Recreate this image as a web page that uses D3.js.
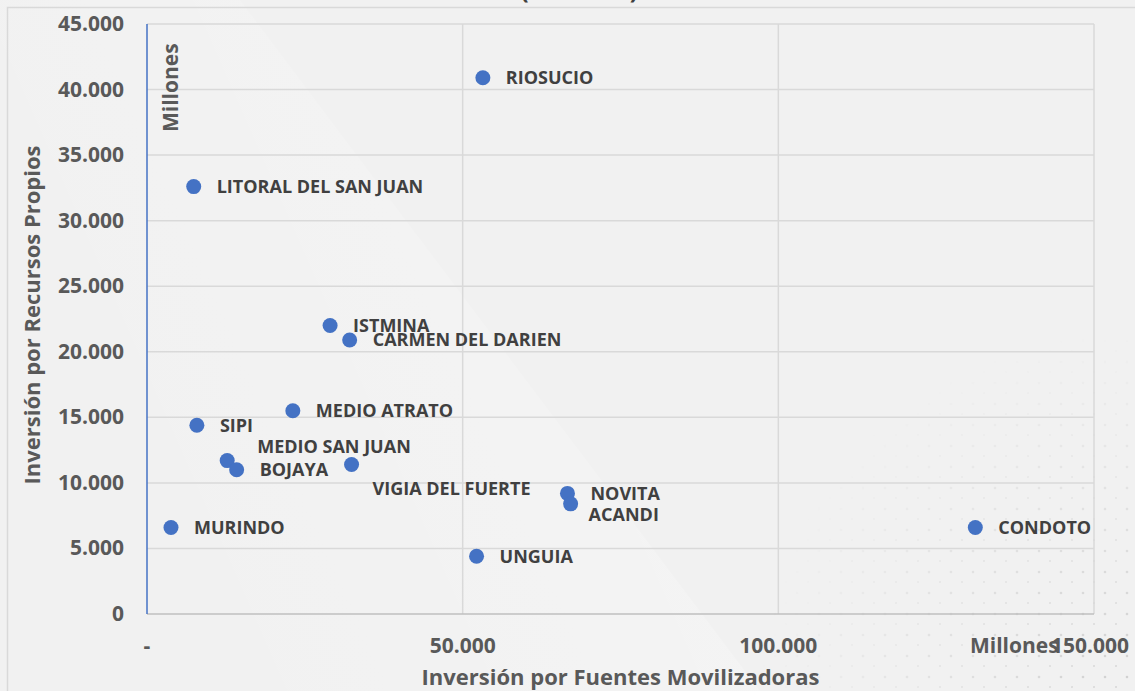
<!DOCTYPE html>
<html>
<head>
<meta charset="utf-8">
<script src="https://cdn.jsdelivr.net/npm/d3@7"></script>
<style>
  body { margin: 0; background: #f2f2f2; }
  text { font-family: "Open Sans", sans-serif; font-weight: 700; }
</style>
</head>
<body>
<div id="chart"></div>
<script>
// municipios y valores (millones)
const municipios = ["RIOSUCIO", "LITORAL DEL SAN JUAN", "ISTMINA", "CARMEN DEL DARIEN", "MEDIO ATRATO",
  "SIPI", "MEDIO SAN JUAN", "BOJAYA", "VIGIA DEL FUERTE", "NOVITA", "ACANDI", "MURINDO", "UNGUIA", "CONDOTO"];
const fuentesMovilizadoras = [53200, 7400, 29000, 32100, 23100, 7900, 12700, 14200, 32400, 66600, 67100, 3800, 52200, 131200];
const recursosPropios = [40900, 32600, 22000, 20900, 15500, 14400, 11700, 11000, 11400, 9200, 8400, 6600, 4400, 6600];
const xTicks = [0, 50000, 100000, 150000];
const yTicks = [0, 5000, 10000, 15000, 20000, 25000, 30000, 35000, 40000, 45000];

// labels moved by hand in the original (px)
const labelNudge = {
  "MEDIO SAN JUAN": [30, -14],
  "VIGIA DEL FUERTE": [21, 24],
  "ACANDI": [18, 11]
};

const width = 1135, height = 691;
const plot = { left: 147, right: 1094, top: 24, bottom: 614 };

const locale = d3.formatLocale({ decimal: ",", thousands: ".", grouping: [3], currency: ["$", ""] });
const fmt = locale.format(",.0f");

const svg = d3.select("#chart").append("svg")
  .attr("width", width)
  .attr("height", height);

const defs = svg.append("defs");

// faint diagonal highlight
const glow = defs.append("linearGradient").attr("id", "glow")
  .attr("x1", "100%").attr("y1", "0%").attr("x2", "0%").attr("y2", "40%");
glow.append("stop").attr("offset", "0%").attr("stop-color", "#fff").attr("stop-opacity", 0.3);
glow.append("stop").attr("offset", "100%").attr("stop-color", "#fff").attr("stop-opacity", 0);

// dotted texture bottom right
const pat = defs.append("pattern").attr("id", "dots")
  .attr("width", 22).attr("height", 21).attr("patternUnits", "userSpaceOnUse");
pat.append("circle").attr("cx", 5).attr("cy", 5).attr("r", 1.3).attr("fill", "#cfcfcf");
pat.append("circle").attr("cx", 16).attr("cy", 15).attr("r", 1.1).attr("fill", "#d6d6d6");
const fade = defs.append("radialGradient").attr("id", "fade")
  .attr("cx", "100%").attr("cy", "100%").attr("r", "100%");
fade.append("stop").attr("offset", "0%").attr("stop-color", "#fff").attr("stop-opacity", 1);
fade.append("stop").attr("offset", "100%").attr("stop-color", "#fff").attr("stop-opacity", 0);
defs.append("mask").attr("id", "dotMask")
  .append("rect").attr("x", 760).attr("y", 330).attr("width", 375).attr("height", 361).attr("fill", "url(#fade)");

svg.append("rect").attr("width", width).attr("height", height).attr("fill", "#f1f1f1");
svg.append("path")
  .attr("d", "M0,0 L240,0 L760,691 L0,691 Z")
  .attr("fill", "url(#glow)");
svg.append("rect").attr("x", 760).attr("y", 330).attr("width", 375).attr("height", 361)
  .attr("fill", "url(#dots)").attr("mask", "url(#dotMask)");

// outer frame
svg.append("rect")
  .attr("x", 7.5).attr("y", 7.5).attr("width", 1300).attr("height", 900)
  .attr("fill", "none").attr("stroke", "#d9d9d9").attr("stroke-width", 1.5);

// title, mostly cut off at the top
svg.append("text")
  .attr("x", 638).attr("y", -1)
  .attr("text-anchor", "end")
  .attr("font-size", 24)
  .attr("fill", "#404040")
  .text("(Millones)");

const x = d3.scaleLinear().domain([0, 150000]).range([plot.left, plot.right]);
const y = d3.scaleLinear().domain([0, 45000]).range([plot.bottom, plot.top]);

// grid
svg.append("g").selectAll("line.h").data(yTicks.filter(d => d > 0)).join("line")
  .attr("x1", plot.left).attr("x2", plot.right)
  .attr("y1", d => y(d)).attr("y2", d => y(d))
  .attr("stroke", "#d9d9d9").attr("stroke-width", 1.5);
svg.append("g").selectAll("line.v").data(xTicks.filter(d => d > 0)).join("line")
  .attr("x1", d => x(d)).attr("x2", d => x(d))
  .attr("y1", plot.top).attr("y2", plot.bottom)
  .attr("stroke", "#d9d9d9").attr("stroke-width", 1.5);

// axes lines
svg.append("line")
  .attr("x1", plot.left).attr("x2", plot.right)
  .attr("y1", plot.bottom).attr("y2", plot.bottom)
  .attr("stroke", "#bfbfbf").attr("stroke-width", 1.5);
svg.append("line")
  .attr("x1", plot.left).attr("x2", plot.left)
  .attr("y1", plot.top).attr("y2", plot.bottom)
  .attr("stroke", "#4472c4").attr("stroke-width", 1.5);

// y tick labels
svg.append("g").selectAll("text").data(yTicks).join("text")
  .attr("x", 124).attr("y", d => y(d) + 7)
  .attr("text-anchor", "end")
  .attr("font-size", 21).attr("fill", "#595959")
  .text(d => fmt(d));

// x tick labels (0 shown as "-")
svg.append("g").selectAll("text").data(xTicks).join("text")
  .attr("x", d => d === 150000 ? 1129 : x(d))
  .attr("y", 653)
  .attr("text-anchor", d => d === 150000 ? "end" : "middle")
  .attr("font-size", 21).attr("fill", "#595959")
  .text(d => d === 0 ? "-" : fmt(d));

// display unit labels
svg.append("text")
  .attr("transform", "translate(178,132) rotate(-90)")
  .attr("font-size", 21).attr("fill", "#595959")
  .text("Millones");
svg.append("text")
  .attr("x", 970).attr("y", 653)
  .attr("font-size", 21).attr("fill", "#595959")
  .text("Millones");

// axis titles
svg.append("text")
  .attr("x", (plot.left + plot.right) / 2).attr("y", 685)
  .attr("text-anchor", "middle")
  .attr("font-size", 22).attr("fill", "#595959")
  .text("Inversión por Fuentes Movilizadoras");
svg.append("text")
  .attr("transform", `translate(40,${(plot.top + plot.bottom) / 2 - 4}) rotate(-90)`)
  .attr("text-anchor", "middle")
  .attr("font-size", 22).attr("fill", "#595959")
  .text("Inversión por Recursos Propios");

// points
const data = municipios.map((m, i) => ({ name: m, fx: fuentesMovilizadoras[i], rp: recursosPropios[i] }));

svg.append("g").selectAll("circle").data(data).join("circle")
  .attr("cx", d => x(d.fx)).attr("cy", d => y(d.rp))
  .attr("r", 7.5)
  .attr("fill", "#4472c4");

svg.append("g").selectAll("text").data(data).join("text")
  .attr("x", d => x(d.fx) + (labelNudge[d.name] ? labelNudge[d.name][0] : 23))
  .attr("y", d => y(d.rp) + (labelNudge[d.name] ? labelNudge[d.name][1] : 0))
  .attr("dy", "0.36em")
  .attr("font-size", 18).attr("fill", "#404040")
  .text(d => d.name);
</script>
</body>
</html>
